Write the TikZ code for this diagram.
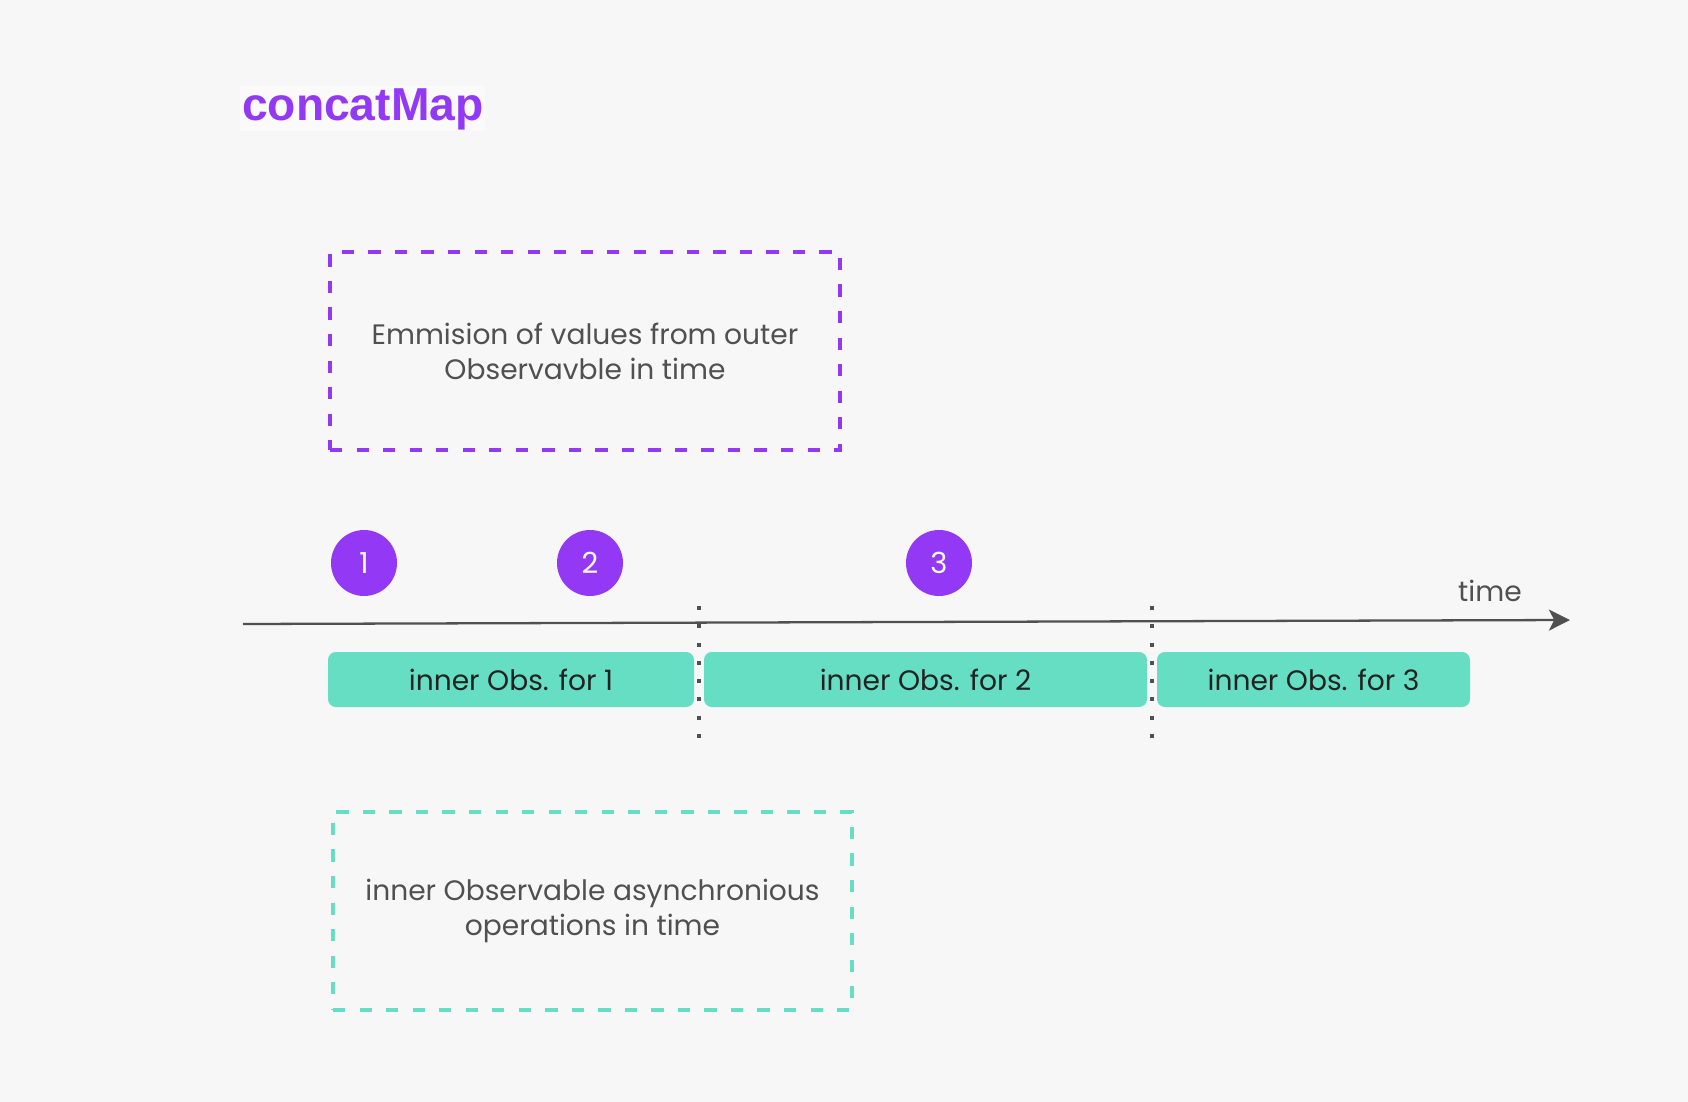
\documentclass[tikz,border=0pt]{standalone}
\usepackage{fontspec}
\setmainfont{Poppins}
\newfontfamily\headfont{Liberation Sans}
\usetikzlibrary{arrows.meta}
\definecolor{rxbg}{HTML}{F7F7F7}
\definecolor{rxpurple}{HTML}{9339F5}
\definecolor{rxmint}{HTML}{66DEC3}
\definecolor{rxgrey}{HTML}{505050}
\definecolor{rxink}{HTML}{222222}
\definecolor{rxaxis}{HTML}{505050}
\tikzset{
  emission/.style={circle, fill=rxpurple, text=white, inner sep=0pt, minimum size=66*\px, font=\fontsize{16.5}{16.5}\selectfont},
  innerobs/.style={fill=rxmint, text=rxink, rounded corners=4.5pt, inner sep=0pt, minimum height=55*\px, font=\fontsize{16}{16}\selectfont},
  legend/.style={line width=2.7pt, dash pattern=on 7pt off 8.1pt, text=rxgrey, align=center, inner sep=0pt, minimum height=198*\px, font=\fontsize{16}{19.8}\selectfont},
  boundary/.style={rxaxis, line width=2.3pt, dash pattern=on 2.3pt off 8.1pt}
}
\begin{document}
\begin{tikzpicture}[x=0.02cm, y=-0.02cm]
  \def\px{0.02cm}
  \fill [rxbg] (0, 0) rectangle (1688, 1102);
  \node [anchor=base west, fill=rxbg!60!white, inner sep=1pt, text=rxpurple, font=\headfont\bfseries\fontsize{26.3}{26.3}\selectfont] (title) at (240, 120) {concatMap};
  \node [legend, draw=rxpurple, minimum width=510*\px] (outer) at (585, 351) {Emmision of values from outer\\Observavble in time};
  \node [legend, draw=rxmint, minimum width=519*\px] (inner) at (592.5, 911) {inner Observable asynchronious\\operations in time};
  \coordinate (t0) at (243, 624);
  \coordinate (t1) at (1570, 620);
  \draw [rxaxis, line width=1.3pt, -{Stealth[length=12pt, width=12pt, inset=3pt]}] (t0) -- (t1);
  \node [anchor=base, text=rxgrey, font=\fontsize{16}{16}\selectfont] (time) at (1490, 601) {time};
  \node [emission] (v1) at (364, 563) {1};
  \node [emission] (v2) at (590, 563) {2};
  \node [emission] (v3) at (939, 563) {3};
  \node [innerobs, minimum width=366*\px] (obs1) at (511, 679.5) {inner Obs. for 1};
  \node [innerobs, minimum width=443*\px] (obs2) at (925.5, 679.5) {inner Obs. for 2};
  \node [innerobs, minimum width=313*\px] (obs3) at (1313.5, 679.5) {inner Obs. for 3};
  \coordinate (b1t) at (699, 606);
  \coordinate (b1b) at (699, 740);
  \coordinate (b2t) at (1152, 606);
  \coordinate (b2b) at (1152, 740);
  \draw [boundary] (b1t) -- (b1b);
  \draw [boundary] (b2t) -- (b2b);
\end{tikzpicture}
\end{document}
